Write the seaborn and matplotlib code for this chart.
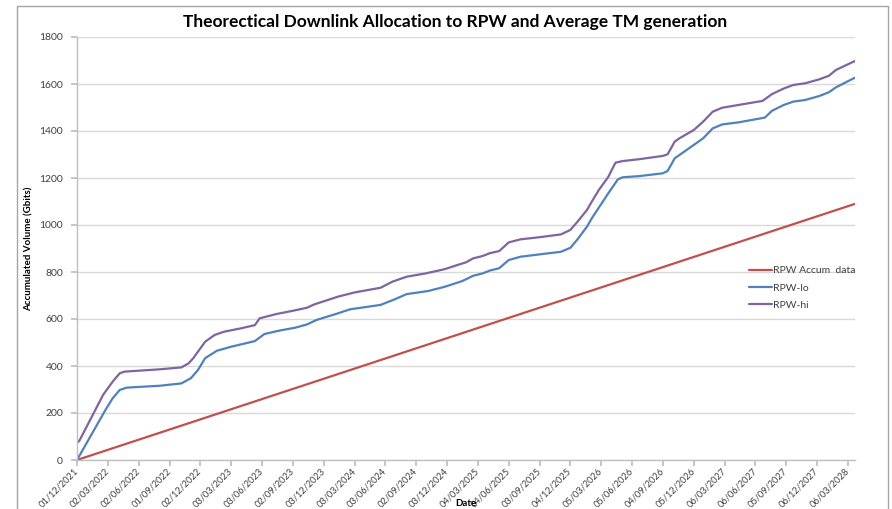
import matplotlib
matplotlib.use("Agg")
import matplotlib.pyplot as plt
from matplotlib.lines import Line2D
import seaborn as sns
import pandas as pd

# ---- data (x in weeks since 01/12/2021) ----
hi_weeks = [0, 1, 11, 15, 18, 20, 35, 44, 47, 49, 54, 58, 62, 69, 75, 77, 84, 91, 97, 100, 110,
            117, 128, 133, 139, 147, 155, 162, 164, 167, 171, 174, 178, 182, 187, 195, 204, 208,
            211, 215, 217, 220, 224, 227, 230, 237, 247, 249, 252, 254, 260, 264, 268, 272, 279,
            289, 293, 298, 302, 307, 313, 317, 320, 328]
hi_vals = [73, 82, 277, 333, 369, 376, 386, 394, 411, 433, 503, 532, 546, 560, 574, 603, 621, 635,
           648, 662, 695, 713, 733, 759, 780, 794, 812, 835, 841, 858, 868, 880, 889, 926, 939,
           948, 960, 979, 1014, 1064, 1099, 1149, 1205, 1265, 1272, 1280, 1294, 1301, 1355, 1369,
           1404, 1440, 1482, 1499, 1511, 1528, 1557, 1581, 1596, 1603, 1620, 1635, 1660, 1698]

lo_weeks = [0, 12, 15, 18, 21, 35, 44, 48, 51, 54, 59, 65, 75, 79, 85, 92, 97, 101, 110, 115,
            128, 134, 139, 148, 155, 162, 164, 167, 171, 174, 178, 182, 187, 195, 204, 208, 211,
            215, 217, 224, 228, 230, 237, 247, 249, 252, 255, 264, 268, 272, 279, 290, 293, 298,
            302, 307, 313, 317, 320, 328]
lo_vals = [0, 213, 262, 298, 308, 316, 326, 348, 383, 433, 465, 482, 506, 536, 550, 563, 577, 596,
           624, 641, 660, 684, 706, 719, 737, 760, 769, 784, 794, 806, 816, 851, 865, 875, 886,
           903, 939, 993, 1028, 1135, 1194, 1203, 1208, 1220, 1230, 1284, 1305, 1369, 1411, 1428,
           1437, 1457, 1486, 1511, 1525, 1532, 1549, 1565, 1586, 1627]

accum_weeks = [0, 328]
accum_vals = [0, 1090]

tick_labels = ["01/12/2021", "02/03/2022", "02/06/2022", "01/09/2022", "02/12/2022",
               "03/03/2023", "03/06/2023", "02/09/2023", "03/12/2023", "03/03/2024",
               "03/06/2024", "02/09/2024", "03/12/2024", "04/03/2025", "04/06/2025",
               "03/09/2025", "04/12/2025", "05/03/2026", "05/06/2026", "04/09/2026",
               "05/12/2026", "06/03/2027", "06/06/2027", "05/09/2027", "06/12/2027",
               "06/03/2028"]
tick_step_weeks = 13

series_names = ["RPW Accum  data", "RPW-lo", "RPW-hi"]
series_colors = ["#C0504D", "#4F81BD", "#8064A2"]

title = "Theorectical Downlink Allocation to RPW and Average TM generation"
ylabel = "Accumulated Volume (Gbits)"
xlabel = "Date"

# ---- build long-form table ----
frames = []
for name, w, v in zip(series_names, [accum_weeks, lo_weeks, hi_weeks],
                      [accum_vals, lo_vals, hi_vals]):
    frames.append(pd.DataFrame({"week": w, "value": v, "series": name}))
df = pd.concat(frames, ignore_index=True)

sns.set_theme(style="white")
plt.rcParams["font.family"] = ["Lato", "DejaVu Sans"]

W, H = 892, 509
fig = plt.figure(figsize=(W / 100, H / 100), dpi=100)
ax = fig.add_axes([77 / W, 1 - 460 / H, (855 - 77) / W, (460 - 37) / H])

sns.lineplot(data=df, x="week", y="value", hue="series", hue_order=series_names,
             palette=series_colors, linewidth=1.6, ax=ax, legend=True, sort=False)

ax.set_xlim(0, 328)
ax.set_ylim(0, 1800)
ax.set_yticks(range(0, 1801, 200))
ax.set_xticks([i * tick_step_weeks for i in range(len(tick_labels))])
ax.set_xticklabels(tick_labels, rotation=45, ha="right", va="center", rotation_mode="anchor",
                   fontsize=6.7, color="#404040")
ax.tick_params(axis="y", labelsize=7.5, labelcolor="#404040", length=4, color="#BFBFBF",
               direction="out", left=True, pad=6)
ax.tick_params(axis="x", length=4, color="#BFBFBF", direction="out", bottom=True, pad=3)
ax.grid(axis="y", color="#D9D9D9", linewidth=1)
ax.grid(axis="x", visible=False)
for s in ["top", "right"]:
    ax.spines[s].set_visible(False)
for s in ["left", "bottom"]:
    ax.spines[s].set_color("#BFBFBF")
    ax.spines[s].set_linewidth(1)
ax.set_xlabel("")
ax.set_ylabel(ylabel, fontsize=7, fontweight="bold", labelpad=4, color="#000000")

leg = ax.legend(loc="upper left", bbox_to_anchor=((745 - 77) / (855 - 77), (460 - 262) / (460 - 37)),
                frameon=False, fontsize=7.5, handlelength=2.2, handletextpad=0.1,
                labelspacing=0.75, borderaxespad=0)
for t in leg.get_texts():
    t.set_color("#404040")

fig.text(455 / W, 1 - 22 / H, title, ha="center", va="center", fontsize=12.5,
         fontweight="bold", color="#000000")
fig.text(466 / W, 1 - 503 / H, xlabel, ha="center", va="center", fontsize=7,
         fontweight="bold", color="#000000")

# chart area border (left, top, right)
fig.add_artist(Line2D([17 / W, 17 / W, 888 / W, 888 / W], [0, 1 - 6 / H, 1 - 6 / H, 0],
                      transform=fig.transFigure, color="#A6A6A6", linewidth=1))

fig.savefig("out.png", dpi=100, facecolor="white")
